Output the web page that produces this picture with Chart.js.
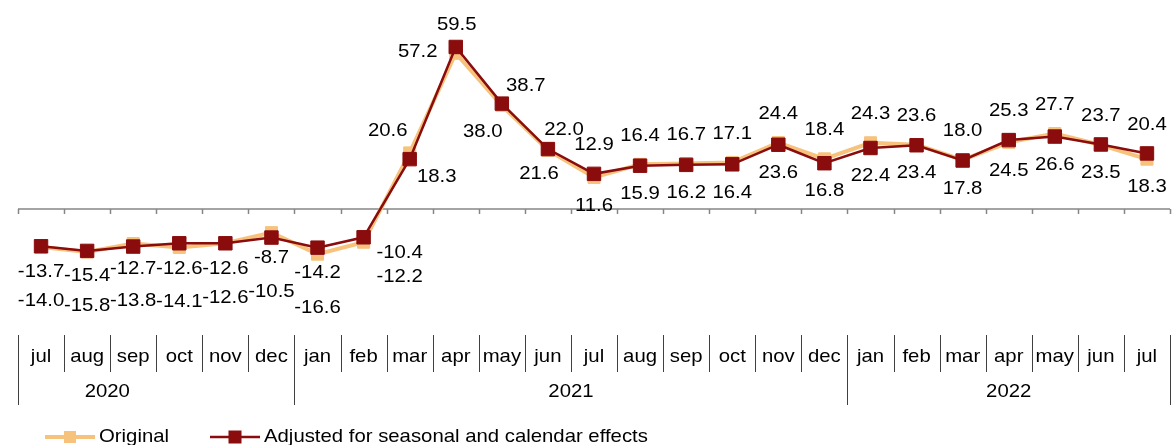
<!DOCTYPE html>
<html>
<head>
<meta charset="utf-8">
<script src="https://cdn.jsdelivr.net/npm/chart.js@4/dist/chart.umd.min.js"></script>
<style>
  html, body { margin: 0; padding: 0; background: #fff; overflow: hidden; }
  canvas { display: block; }
</style>
</head>
<body>
<canvas id="lineChart" width="1172" height="445" style="width:1172px;height:445px"></canvas>
<script>
// months shown on the axis, jul 2020 .. jul 2022
var months = ['jul','aug','sep','oct','nov','dec',
              'jan','feb','mar','apr','may','jun','jul','aug','sep','oct','nov','dec',
              'jan','feb','mar','apr','may','jun','jul'];
var years = ['2020', '2021', '2022'];
var yearStart = [0, 6, 18];   // first month index of each year group

var original = [-14.0, -15.8, -12.7, -14.1, -12.6, -8.7,
                -16.6, -12.2, 20.6, 57.2, 38.0, 21.6, 11.6, 16.4, 16.7, 17.1, 24.4, 18.4,
                24.3, 23.6, 18.0, 24.5, 27.7, 23.5, 18.3];
var adjusted = [-13.7, -15.4, -13.8, -12.6, -12.6, -10.5,
                -14.2, -10.4, 18.3, 59.5, 38.7, 22.0, 12.9, 15.9, 16.2, 16.4, 23.6, 16.8,
                22.4, 23.4, 17.8, 25.3, 26.6, 23.7, 20.4];

var seriesNames = ['Original', 'Adjusted for seasonal and calendar effects'];
var colOrig = '#F7C27C';
var colAdj = '#8A0C0C';
var FONT = '19px "Liberation Sans", Arial, sans-serif';
var STRETCH = 1.07; // the source text is drawn a bit wide

// label nudges where the labels sit away from the default spots [dx, dy] from own marker
var labelNudge = {
    7:  { up: [36, 15],  low: [36, 35] },
    8:  { up: [-22, -22], low: [27, 18] },
    9:  { up: [1, -22],  low: [-38, -1] },
    10: { up: [24, -18], low: [-19, 26] },
    11: { up: [16, -19], low: [-9, 24] }
};
var yearShift = { 0: -49 };

function wideText(ctx, txt, x, y, align) {
    ctx.save();
    ctx.translate(x, y);
    ctx.scale(STRETCH, 1);
    ctx.textAlign = align || 'center';
    ctx.fillText(txt, 0, 0);
    ctx.restore();
}

var extras = {
    id: 'extras',
    beforeDatasetsDraw: function (chart) {
        var ctx = chart.ctx;
        var xs = chart.scales.x, ys = chart.scales.y;
        var area = chart.chartArea;
        var w = (area.right - area.left) / months.length;
        var y0 = ys.getPixelForValue(0);
        ctx.save();
        // zero axis with ticks
        ctx.strokeStyle = '#868686';
        ctx.lineWidth = 1.5;
        ctx.beginPath();
        ctx.moveTo(area.left, y0);
        ctx.lineTo(area.right, y0);
        for (var k = 0; k <= months.length; k++) {
            var tx = Math.round(area.left + k * w) + 0.5;
            ctx.moveTo(tx, y0);
            ctx.lineTo(tx, y0 + 5);
        }
        ctx.stroke();

        // bottom category axis
        ctx.strokeStyle = '#404040';
        ctx.lineWidth = 1;
        ctx.beginPath();
        for (var k = 0; k <= months.length; k++) {
            var sx = Math.round(area.left + k * w) + 0.5;
            var isYear = yearStart.indexOf(k) >= 0 || k === months.length;
            ctx.moveTo(sx, 335);
            ctx.lineTo(sx, isYear ? 405 : 372);
        }
        ctx.stroke();

        ctx.fillStyle = '#000';
        ctx.font = FONT;
        ctx.textBaseline = 'middle';
        for (var i = 0; i < months.length; i++) {
            wideText(ctx, months[i], xs.getPixelForValue(i), 357);
        }
        for (var j = 0; j < years.length; j++) {
            var a = yearStart[j];
            var b = j + 1 < years.length ? yearStart[j + 1] : months.length;
            var cx = area.left + (a + b) / 2 * w + (yearShift[j] || 0);
            wideText(ctx, years[j], cx, 392);
        }
        ctx.restore();
    },
    afterDatasetsDraw: function (chart) {
        var ctx = chart.ctx;
        var xs = chart.scales.x, ys = chart.scales.y;
        ctx.save();
        ctx.fillStyle = '#000';
        ctx.font = FONT;
        ctx.textBaseline = 'middle';
        for (var i = 0; i < months.length; i++) {
            var pair = [original[i], adjusted[i]];
            var neg = Math.max(pair[0], pair[1]) < 0;
            for (var d = 0; d < 2; d++) {
                var v = pair[d], other = pair[1 - d];
                var upper = v > other || (v === other && d === 1);
                var px = xs.getPixelForValue(i);
                var py = ys.getPixelForValue(v);
                var off;
                if (labelNudge[i]) {
                    off = upper ? labelNudge[i].up : labelNudge[i].low;
                } else if (neg) {
                    off = [0, upper ? 25 : 54];
                } else {
                    off = [0, upper ? -29 : 28];
                }
                wideText(ctx, v.toFixed(1), px + off[0], py + off[1]);
            }
        }
        ctx.restore();
    },
    afterDraw: function (chart) {
        var ctx = chart.ctx;
        ctx.save();
        var items = [
            { x: 45, color: colOrig, lw: 4, sq: 12 },
            { x: 210, color: colAdj, lw: 2.5, sq: 13 }
        ];
        var ly = 437;
        ctx.font = FONT;
        ctx.textBaseline = 'middle';
        for (var n = 0; n < items.length; n++) {
            var it = items[n];
            ctx.strokeStyle = it.color;
            ctx.lineWidth = it.lw;
            ctx.beginPath();
            ctx.moveTo(it.x, ly);
            ctx.lineTo(it.x + 50, ly);
            ctx.stroke();
            ctx.fillStyle = it.color;
            ctx.fillRect(it.x + 25 - it.sq / 2, ly - it.sq / 2, it.sq, it.sq);
            ctx.fillStyle = '#000';
            wideText(ctx, seriesNames[n], it.x + 54, ly, 'left');
        }
        ctx.restore();
    }
};

var lineCanvas = document.getElementById('lineChart');
var lineChart = new Chart(lineCanvas, {
    type: 'line',
    data: {
        labels: months,
        datasets: [{
            label: seriesNames[0],
            data: original,
            borderColor: colOrig,
            backgroundColor: colOrig,
            borderWidth: 4,
            pointStyle: 'rect',
            pointRadius: 8.5,
            pointBorderWidth: 1,
            pointBorderColor: colOrig,
            pointBackgroundColor: colOrig,
            tension: 0,
            order: 1
        }, {
            label: seriesNames[1],
            data: adjusted,
            borderColor: colAdj,
            backgroundColor: colAdj,
            borderWidth: 2.5,
            pointStyle: 'rect',
            pointRadius: 9.5,
            pointBorderWidth: 1,
            pointBorderColor: colAdj,
            pointBackgroundColor: colAdj,
            tension: 0,
            order: 0
        }]
    },
    options: {
        responsive: false,
        animation: false,
        devicePixelRatio: 1,
        layout: {
            autoPadding: false,
            padding: { left: 18, right: 2, top: 32, bottom: 113.5 }
        },
        scales: {
            x: { display: false, offset: true },
            y: { display: false, min: -45, max: 65 }
        },
        plugins: {
            legend: { display: false },
            tooltip: { enabled: false }
        }
    },
    plugins: [extras]
});
</script>
</body>
</html>
